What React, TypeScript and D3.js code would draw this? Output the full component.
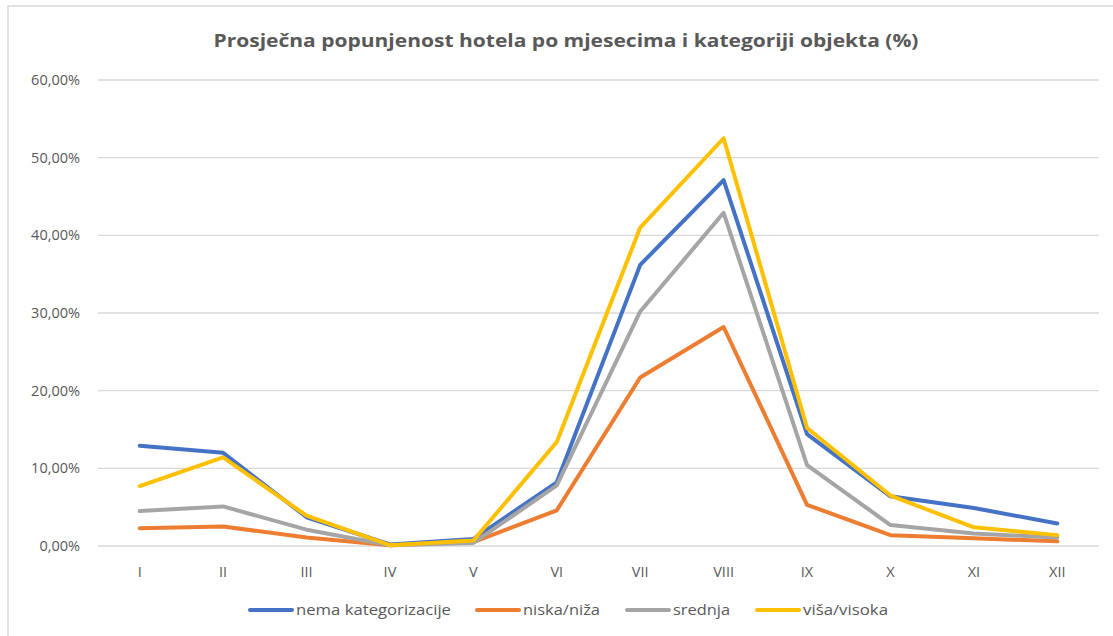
import React from "react";
import * as d3 from "d3";

const months = ["I", "II", "III", "IV", "V", "VI", "VII", "VIII", "IX", "X", "XI", "XII"];
const nemaKategorizacije = [12.9, 12.0, 3.7, 0.2, 0.9, 8.2, 36.2, 47.1, 14.4, 6.4, 4.9, 2.9];
const niskaNiza = [2.3, 2.5, 1.1, 0.1, 0.5, 4.6, 21.7, 28.2, 5.3, 1.4, 1.0, 0.6];
const srednja = [4.5, 5.1, 2.1, 0.1, 0.4, 7.8, 30.2, 42.9, 10.4, 2.7, 1.6, 1.1];
const visaVisoka = [7.7, 11.4, 3.9, 0.1, 0.7, 13.4, 41.0, 52.5, 15.2, 6.5, 2.4, 1.4];
const yTicks = [0, 10, 20, 30, 40, 50, 60];
const seriesNames = ["nema kategorizacije", "niska/niža", "srednja", "viša/visoka"];
const seriesColors = ["#4472C4", "#ED7D31", "#A5A5A5", "#FFC000"];
const title = "Prosječna popunjenost hotela po mjesecima i kategoriji objekta (%)";

const W = 1113;
const H = 636;
const margin = { left: 98, right: 1099, top: 80, bottom: 546 };
const FONT = "'Open Sans', 'Noto Sans', sans-serif";

export default function App() {
  const series = [nemaKategorizacije, niskaNiza, srednja, visaVisoka];
  const x = d3.scaleBand<string>().domain(months).range([margin.left, margin.right]);
  const y = d3.scaleLinear().domain([0, 60]).range([margin.bottom, margin.top]);
  const line = d3
    .line<number>()
    .x((_, i) => (x(months[i]) as number) + x.bandwidth() / 2)
    .y((d) => y(d));

  const fmt = (v: number) => v.toFixed(2).replace(".", ",") + "%";

  const legendX = [250, 477, 627, 757];
  const legendTextW = [155, 77, 57, 85];

  return (
    <svg
      width={W}
      height={H}
      style={{ position: "absolute", left: 0, top: 0, background: "#fff" }}
    >
      <rect x={8} y={6} width={W} height={H} fill="#fff" stroke="#D9D9D9" strokeWidth={1.5} />
      <text
        x={566}
        y={47}
        textAnchor="middle"
        fontFamily={FONT}
        fontWeight="bold"
        fontSize={17}
        fill="#595959"
        textLength={705}
        lengthAdjust="spacingAndGlyphs"
      >
        {title}
      </text>
      {yTicks.map((t) => (
        <g key={t}>
          <line x1={margin.left} x2={margin.right} y1={y(t)} y2={y(t)} stroke="#D9D9D9" strokeWidth={1.3} />
          <text
            x={80}
            y={y(t) + 5}
            textAnchor="end"
            fontFamily={FONT}
            fontSize={14.5}
            fill="#595959"
          >
            {fmt(t)}
          </text>
        </g>
      ))}
      {months.map((m) => (
        <text
          key={m}
          x={(x(m) as number) + x.bandwidth() / 2}
          y={577}
          textAnchor="middle"
          fontFamily={FONT}
          fontSize={14.5}
          fill="#595959"
        >
          {m}
        </text>
      ))}
      {series.map((s, i) => (
        <path
          key={i}
          d={line(s) || ""}
          fill="none"
          stroke={seriesColors[i]}
          strokeWidth={4}
          strokeLinejoin="round"
          strokeLinecap="round"
        />
      ))}
      {seriesNames.map((n, i) => (
        <g key={n}>
          <line
            x1={legendX[i]}
            x2={legendX[i] + 42}
            y1={610}
            y2={610}
            stroke={seriesColors[i]}
            strokeWidth={4}
            strokeLinecap="round"
          />
          <text
            x={legendX[i] + 46}
            y={615}
            fontFamily={FONT}
            fontSize={14}
            fill="#595959"
            textLength={legendTextW[i]}
            lengthAdjust="spacingAndGlyphs"
          >
            {n}
          </text>
        </g>
      ))}
    </svg>
  );
}
